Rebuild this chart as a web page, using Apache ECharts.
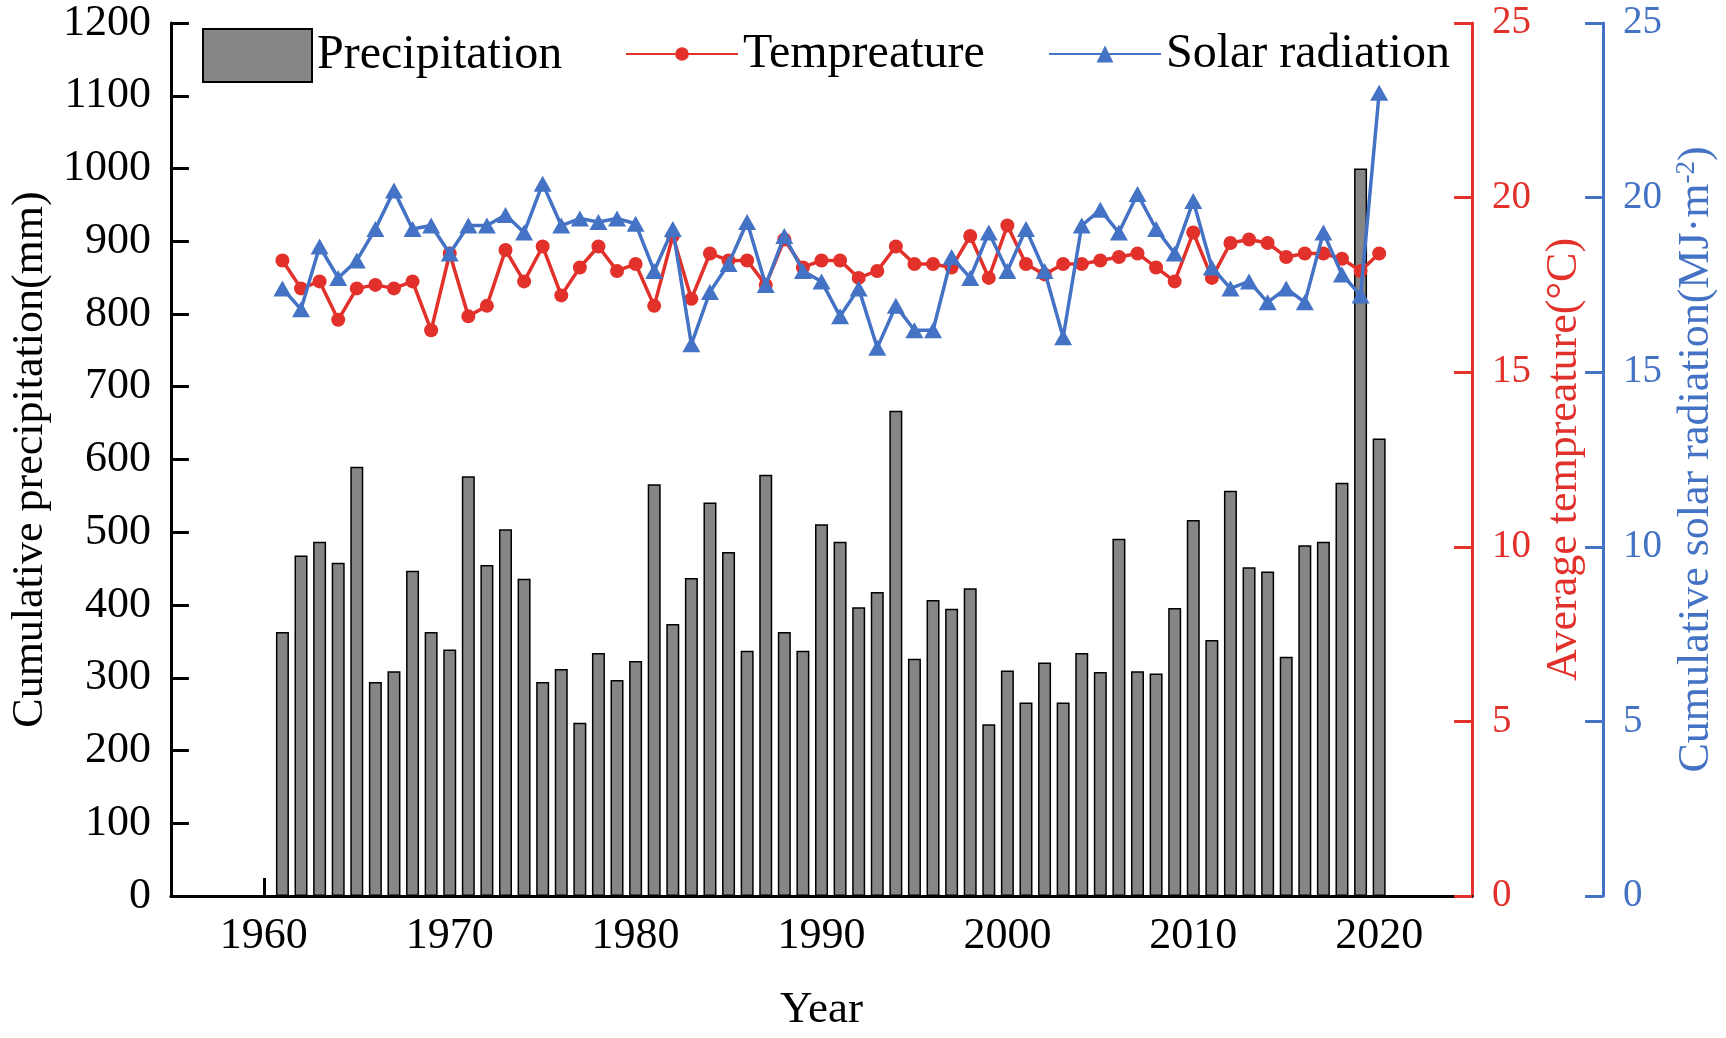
<!DOCTYPE html>
<html>
<head>
<meta charset="utf-8">
<title>Precipitation, temperature and solar radiation</title>
<script src="https://cdn.jsdelivr.net/npm/echarts@6/dist/echarts.min.js"></script>
<style>
  html, body { margin: 0; padding: 0; background: #fff; }
  #main { width: 1726px; height: 1038px; }
</style>
</head>
<body>
<div id="main"></div>
<script>
// years shown on the chart
var years = [1961, 1962, 1963, 1964, 1965, 1966, 1967, 1968, 1969, 1970,
             1971, 1972, 1973, 1974, 1975, 1976, 1977, 1978, 1979, 1980,
             1981, 1982, 1983, 1984, 1985, 1986, 1987, 1988, 1989, 1990,
             1991, 1992, 1993, 1994, 1995, 1996, 1997, 1998, 1999, 2000,
             2001, 2002, 2003, 2004, 2005, 2006, 2007, 2008, 2009, 2010,
             2011, 2012, 2013, 2014, 2015, 2016, 2017, 2018, 2019, 2020];

// cumulative precipitation (mm)
var precipitation = [363, 468, 487, 458, 590, 294, 309, 447, 363, 339,
                     577, 455, 504, 436, 294, 312, 238, 334, 297, 323,
                     566, 374, 437, 541, 473, 337, 579, 363, 337, 511,
                     487, 397, 418, 667, 326, 407, 395, 423, 236, 310,
                     266, 321, 266, 334, 308, 491, 309, 306, 396, 517,
                     352, 557, 452, 446, 329, 482, 487, 568, 1000, 629];

// average temperature (°C)
var temperature = [18.2, 17.4, 17.6, 16.5, 17.4, 17.5, 17.4, 17.6, 16.2, 18.4,
                   16.6, 16.9, 18.5, 17.6, 18.6, 17.2, 18.0, 18.6, 17.9, 18.1,
                   16.9, 18.9, 17.1, 18.4, 18.2, 18.2, 17.5, 18.8, 18.0, 18.2,
                   18.2, 17.7, 17.9, 18.6, 18.1, 18.1, 18.0, 18.9, 17.7, 19.2,
                   18.1, 17.8, 18.1, 18.1, 18.2, 18.3, 18.4, 18.0, 17.6, 19.0,
                   17.7, 18.7, 18.8, 18.7, 18.3, 18.4, 18.4, 18.25, 17.9, 18.4];

// cumulative solar radiation (MJ·m-2)
var solar = [17.4, 16.8, 18.6, 17.7, 18.2, 19.1, 20.2, 19.1, 19.2, 18.4,
             19.2, 19.2, 19.5, 19.0, 20.4, 19.2, 19.4, 19.3, 19.4, 19.25,
             17.9, 19.1, 15.8, 17.3, 18.1, 19.3, 17.5, 18.9, 17.9, 17.6,
             16.6, 17.4, 15.7, 16.9, 16.2, 16.2, 18.3, 17.7, 19.0, 17.9,
             19.1, 17.9, 16.0, 19.2, 19.65, 19.0, 20.1, 19.1, 18.4, 19.9,
             18.0, 17.4, 17.6, 17.0, 17.4, 17.0, 19.0, 17.8, 17.2, 23.0];

// x tick labels
var yearTicks = [1960, 1970, 1980, 1990, 2000, 2010, 2020];

var FONT = 'Liberation Serif, DejaVu Serif, serif';
var RED = '#E2302A';
var BLUE = '#4472C4';

function pairs(vals) {
    var out = [];
    for (var i = 0; i < years.length; i++) {
        out.push([years[i], vals[i]]);
    }
    return out;
}

// plain numbers, no thousands separator
function plain(v) {
    return String(v);
}

var myChart = echarts.init(document.getElementById('main'));

var option = {
    animation: false,
    backgroundColor: '#fff',
    textStyle: { fontFamily: FONT },
    grid: { left: 168, right: 252, top: 23, bottom: 135 },
    legend: [{
        data: ['Precipitation'],
        left: 202, top: 28, padding: 0,
        icon: 'rect',
        itemWidth: 109, itemHeight: 53,
        textStyle: { fontSize: 48, fontFamily: FONT, color: '#000' }
    }, {
        data: ['Tempreature'],
        left: 625, top: 30, padding: 0,
        itemWidth: 112, itemHeight: 17,
        textStyle: { fontSize: 48, fontFamily: FONT, color: '#000' }
    }, {
        data: ['Solar radiation'],
        left: 1048, top: 30, padding: 0,
        itemWidth: 112, itemHeight: 21,
        textStyle: { fontSize: 48, fontFamily: FONT, color: '#000' }
    }],
    xAxis: {
        type: 'value',
        min: 1955,
        max: 2025,
        name: 'Year',
        nameLocation: 'middle',
        nameGap: 92,
        nameTextStyle: { fontSize: 45, fontFamily: FONT, color: '#000' },
        axisLine: { lineStyle: { color: '#000', width: 3 } },
        axisTick: { inside: true, length: 18, lineStyle: { color: '#000', width: 3 }, customValues: yearTicks },
        axisLabel: { customValues: yearTicks, formatter: plain, fontSize: 44, fontFamily: FONT, color: '#000', margin: 18 },
        splitLine: { show: false }
    },
    yAxis: [{
        type: 'value',
        position: 'left',
        min: 0, max: 1200, interval: 100,
        name: 'Cumulative precipitation(mm)',
        nameLocation: 'middle',
        nameRotate: 90,
        nameGap: 118,
        nameTextStyle: { fontSize: 44, fontFamily: FONT, color: '#000' },
        axisLine: { show: true, lineStyle: { color: '#000', width: 3 } },
        axisTick: { show: true, inside: true, length: 18, lineStyle: { color: '#000', width: 3 } },
        axisLabel: { formatter: plain, fontSize: 44, fontFamily: FONT, color: '#000', margin: 20 },
        splitLine: { show: false }
    }, {
        type: 'value',
        position: 'right',
        min: 0, max: 25, interval: 5,
        name: 'Average tempreature(°C)',
        nameLocation: 'middle',
        nameRotate: 90,
        nameGap: 64,
        nameTextStyle: { fontSize: 44, fontFamily: FONT, color: RED },
        axisLine: { show: true, lineStyle: { color: RED, width: 3 } },
        axisTick: { show: true, inside: true, length: 18, lineStyle: { color: RED, width: 3 } },
        axisLabel: { formatter: plain, fontSize: 39, fontFamily: FONT, color: RED, margin: 20 },
        splitLine: { show: false }
    }, {
        type: 'value',
        position: 'right',
        offset: 131,
        min: 0, max: 25, interval: 5,
        name: '{a|Cumulative solar radiation(MJ·m}{s|-2}{a|)}',
        nameLocation: 'middle',
        nameRotate: 90,
        nameGap: 68,
        nameTextStyle: {
            fontSize: 44, fontFamily: FONT, color: BLUE,
            rich: {
                a: { fontSize: 44, fontFamily: FONT, color: BLUE, lineHeight: 46 },
                s: { fontSize: 27, fontFamily: FONT, color: BLUE, verticalAlign: 'top', lineHeight: 46 }
            }
        },
        axisLine: { show: true, lineStyle: { color: BLUE, width: 3 } },
        axisTick: { show: true, inside: true, length: 18, lineStyle: { color: BLUE, width: 3 } },
        axisLabel: { formatter: plain, fontSize: 39, fontFamily: FONT, color: BLUE, margin: 20 },
        splitLine: { show: false }
    }],
    series: [{
        name: 'Precipitation',
        type: 'bar',
        yAxisIndex: 0,
        barWidth: 13,
        itemStyle: { color: '#868686', borderColor: '#000', borderWidth: 1.5 },
        data: pairs(precipitation),
        z: 1
    }, {
        name: 'Tempreature',
        type: 'line',
        yAxisIndex: 1,
        symbol: 'circle',
        symbolSize: 14,
        lineStyle: { color: RED, width: 3.5 },
        itemStyle: { color: RED },
        data: pairs(temperature),
        z: 3
    }, {
        name: 'Solar radiation',
        type: 'line',
        yAxisIndex: 2,
        symbol: 'triangle',
        symbolSize: [18, 16],
        lineStyle: { color: BLUE, width: 3.5 },
        itemStyle: { color: BLUE },
        data: pairs(solar),
        z: 4
    }]
};

myChart.setOption(option, true);
</script>
</body>
</html>
